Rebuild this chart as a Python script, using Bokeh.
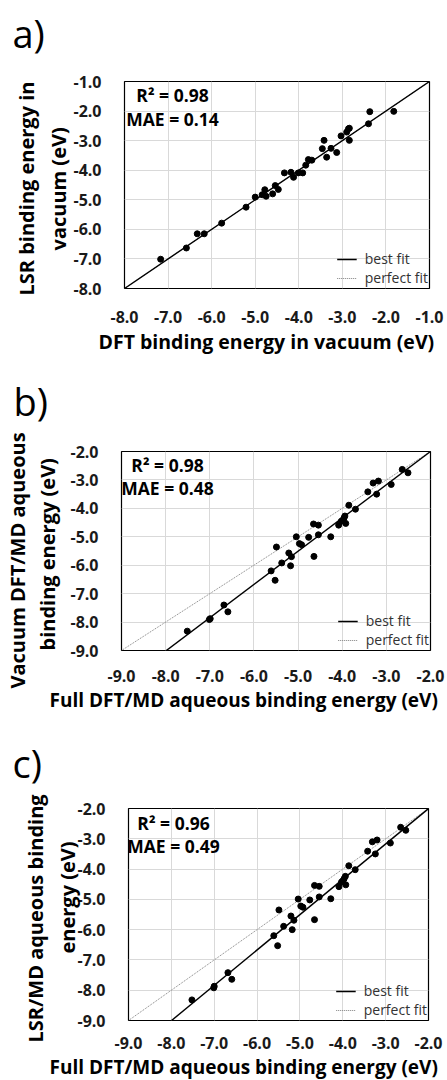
import numpy as np
from bokeh.plotting import figure
from bokeh.models import Label, Legend, LegendItem, NumeralTickFormatter, FixedTicker, Range1d, Title
from bokeh.embed import file_html
from bokeh.resources import INLINE

FONT = "Open Sans"

# ---------------- data ----------------
# panel a: DFT vacuum (x) vs LSR vacuum (y)
a_x = [-7.17, -6.58, -6.33, -6.17, -5.77, -5.21, -5.00, -4.84, -4.78, -4.75,
       -4.60, -4.54, -4.47, -4.33, -4.18, -4.12, -4.01, -3.91, -3.84, -3.78,
       -3.70, -3.46, -3.42, -3.36, -3.26, -3.13, -3.03, -2.90, -2.86, -2.84,
       -2.84, -2.40, -2.37, -1.82]
a_y = [-7.01, -6.63, -6.15, -6.15, -5.79, -5.25, -4.91, -4.83, -4.66, -4.88,
       -4.80, -4.52, -4.65, -4.09, -4.07, -4.24, -4.09, -4.09, -3.83, -3.64,
       -3.66, -3.27, -2.99, -3.56, -3.26, -3.40, -2.84, -2.71, -2.60, -2.58,
       -2.99, -2.43, -2.02, -2.01]

# panel b: full DFT/MD aqueous (x) vs vacuum DFT/MD aqueous (y)
b_x = [-7.51, -7.01, -6.99, -6.68, -6.59, -5.61, -5.52, -5.49, -5.37, -5.21,
       -5.17, -5.15, -5.04, -4.97, -4.92, -4.76, -4.65, -4.64, -4.54, -4.54,
       -4.26, -4.08, -4.02, -3.98, -3.96, -3.94, -3.92, -3.85, -3.70, -3.42,
       -3.30, -3.22, -3.18, -2.89, -2.64, -2.51]
b_y = [-8.32, -7.91, -7.88, -7.40, -7.64, -6.20, -6.53, -5.36, -5.92, -5.57,
       -6.02, -5.70, -5.00, -5.24, -5.28, -5.02, -4.55, -5.69, -4.59, -4.93,
       -5.00, -4.59, -4.45, -4.41, -4.34, -4.27, -4.53, -3.89, -4.03, -3.42,
       -3.11, -3.50, -3.04, -3.16, -2.63, -2.75]

# panel c: full DFT/MD aqueous (x) vs LSR/MD aqueous (y)
c_x = [-7.52, -7.01, -7.00, -6.68, -6.59, -5.61, -5.52, -5.49, -5.38, -5.21,
       -5.18, -5.14, -5.04, -4.98, -4.93, -4.77, -4.66, -4.66, -4.55, -4.55,
       -4.28, -4.09, -4.03, -4.00, -3.97, -3.94, -3.93, -3.86, -3.71, -3.42,
       -3.31, -3.24, -3.20, -2.89, -2.65, -2.53]
c_y = [-8.32, -7.92, -7.87, -7.42, -7.64, -6.20, -6.53, -5.35, -5.89, -5.55,
       -6.00, -5.69, -4.99, -5.22, -5.26, -5.02, -4.54, -5.67, -4.57, -4.92,
       -4.98, -4.58, -4.43, -4.39, -4.32, -4.24, -4.52, -3.89, -4.02, -3.41,
       -3.10, -3.50, -3.04, -3.14, -2.62, -2.72]

# best-fit lines (slope, intercept)
fit_a = [1.00, 0.00]
fit_b = [1.17, 0.34]
fit_c = [1.167, 0.33]

range_a = [-8.0, -1.0]
range_bc = [-9.0, -2.0]

stats_a = ["R² = 0.98", "MAE = 0.14"]
stats_b = ["R² = 0.98", "MAE = 0.48"]
stats_c = ["R² = 0.96", "MAE = 0.49"]

panel_tags = ["a)", "b)", "c)"]
xtitle_a = "DFT binding energy in vacuum (eV)"
xtitle_bc = "Full DFT/MD aqueous binding energy (eV)"
ytitle_a = ["LSR binding energy in", "vacuum (eV)"]
ytitle_b = ["Vacuum DFT/MD aqueous", "binding energy (eV)"]
ytitle_c = ["LSR/MD aqueous binding", "energy (eV)"]
legend_labels = ["best fit", "perfect fit"]

W = 447


def title(text, size, bold, **kw):
    return Title(text=text, text_font=FONT, text_font_size=size,
                 text_font_style="bold" if bold else "normal",
                 text_color="#000000", **kw)


def tag_strip(tag, height, x, y):
    t = figure(frame_width=W, frame_height=height, min_border=0,
               x_range=Range1d(0, W), y_range=Range1d(0, height),
               x_axis_type=None, y_axis_type=None,
               output_backend="svg", toolbar_location=None,
               outline_line_color=None, background_fill_color="white",
               border_fill_color="white")
    t.add_layout(Label(x=x, y=y, text=tag,
                       text_font=FONT, text_font_size="38px", text_align="left",
                       text_baseline="middle", text_color="#000000"))
    return t


def panel(xs, ys, fit, rng, stats, xtitle, ytitle, geo):
    p = figure(frame_width=geo["fw"], frame_height=geo["fh"],
               min_border_left=geo["bl"], min_border_right=geo["br"],
               min_border_top=geo["bt"], min_border_bottom=geo["bb"],
               x_range=Range1d(rng[0], rng[1]), y_range=Range1d(rng[0], rng[1]),
               output_backend="svg", toolbar_location=None,
               background_fill_color="white", border_fill_color="white")
    ticks = list(np.arange(rng[0], rng[1] + 0.5, 1.0))
    for ax in (p.xaxis[0], p.yaxis[0]):
        ax.ticker = FixedTicker(ticks=ticks)
        ax.formatter = NumeralTickFormatter(format="0.0")
        ax.major_tick_line_color = None
        ax.minor_tick_line_color = None
        ax.axis_line_color = None
        ax.major_label_text_font = FONT
        ax.major_label_text_font_style = "bold"
        ax.major_label_text_font_size = "16px"
        ax.major_label_text_color = "#1a1a1a"
    p.xaxis.major_label_standoff = geo["xls"]
    p.yaxis.major_label_standoff = 17
    p.grid.grid_line_color = "#d9d9d9"
    p.grid.grid_line_width = 1
    p.outline_line_color = "#000000"
    p.outline_line_width = 1.2
    p.outline_line_alpha = 1.0

    p.add_layout(title(xtitle, geo["xf"], True, align="left", offset=geo["xo"],
                       standoff=0), "below")
    p.add_layout(title(ytitle[1], "20px", True, align="left", offset=geo["y2o"],
                       standoff=geo["y2s"]), "left")
    p.add_layout(title(ytitle[0], "20px", True, align="left", offset=geo["y1o"],
                       standoff=geo["y1s"]), "left")

    lx = np.array(rng)
    perfect = p.line(lx, lx, line_color="#7f7f7f", line_width=1, line_dash="1 1")
    best = p.line(lx, fit[0] * lx + fit[1], line_color="#000000", line_width=1.4)
    p.scatter(xs, ys, size=6, color="#000000", marker="circle")

    leg = Legend(items=[LegendItem(label=legend_labels[0], renderers=[best]),
                        LegendItem(label=legend_labels[1], renderers=[perfect])],
                 location="bottom_right", margin=0, padding=1, spacing=0,
                 glyph_width=20, glyph_height=16, label_standoff=8,
                 label_text_font=FONT, label_text_font_size="14px",
                 label_text_color="#333333", label_height=16,
                 border_line_alpha=0, background_fill_alpha=0)
    p.add_layout(leg)

    for txt, yy in ((stats[0], geo["s1"]), (stats[1], geo["s2"])):
        p.add_layout(Label(x=geo["sx"], y=yy, x_units="screen", y_units="screen",
                           text=txt, text_font=FONT, text_font_style="bold",
                           text_font_size="17.5px", text_align="center",
                           text_baseline="middle", text_color="#000000"))
    return p


geo_a = dict(fw=305, fh=207, bl=124, br=18, bt=19, bb=72, xls=16,
             sx=48, s1=194, s2=170, xf="19.5px", xo=-26,
             y1o=-7, y1s=8, y2o=38, y2s=-2)
geo_b = dict(fw=309, fh=199, bl=121, br=17, bt=21, bb=70, xls=13,
             sx=46, s1=186, s2=163, xf="19px", xo=-72,
             y1o=-38, y1s=-12, y2o=0, y2s=14)
geo_c = dict(fw=300, fh=212, bl=128, br=19, bt=16, bb=60, xls=10,
             sx=45, s1=198, s2=175, xf="19px", xo=-79,
             y1o=-22, y1s=18, y2o=67, y2s=-12)

ta = tag_strip(panel_tags[0], 62, 12, 30)
pa = panel(a_x, a_y, fit_a, range_a, stats_a, xtitle_a, ytitle_a, geo_a)
tb = tag_strip(panel_tags[1], 70, 13, 30)
pb = panel(b_x, b_y, fit_b, range_bc, stats_b, xtitle_bc, ytitle_b, geo_b)
tc = tag_strip(panel_tags[2], 72, 12, 30)
pc = panel(c_x, c_y, fit_c, range_bc, stats_c, xtitle_bc, ytitle_c, geo_c)

open("out.html", "w").write(file_html([ta, pa, tb, pb, tc, pc], INLINE))
